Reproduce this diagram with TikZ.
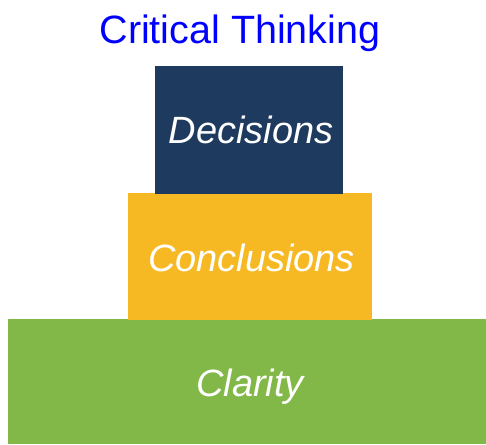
\documentclass[tikz,border=0pt]{standalone}
\usepackage{fontspec}
\setmainfont{Liberation Sans}
\usepackage{tikz}
\definecolor{navy}{HTML}{1E3A5F}
\definecolor{amber}{HTML}{F7B923}
\definecolor{leaf}{HTML}{82B848}
\tikzset{
	step text/.style={anchor=base, inner sep=0pt, text=white, font=\fontsize{38}{40}\selectfont\itshape},
}

\begin{document}
\begin{tikzpicture}[x=1pt, y=-1pt]
		%%%%% START %%%%%
		
		\useasboundingbox (0, 0) rectangle (486, 444);
		
		\fill[leaf] (8, 319) rectangle (486, 444);
		\fill[amber] (128, 193) rectangle (372, 320);
		\fill[navy] (155, 66) rectangle (343, 193.5);
		
		\node[step text] (clarity) at (250, 396.5) {Clarity};
		\node[step text] (conclusions) at (251.5, 271.5) {Conclusions};
		\node[step text] (decisions) at (251, 143) {Decisions};
		
		\node[anchor=base, text=blue, font=\fontsize{39.5}{41}\selectfont, inner sep=0pt] (title) at (240, 43) {Critical Thinking};
		
		%%%%% END %%%%%
	\end{tikzpicture}
\end{document}
